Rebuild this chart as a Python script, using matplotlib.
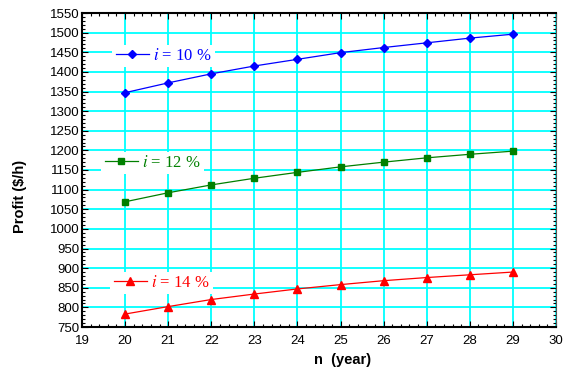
import matplotlib
matplotlib.use("Agg")
import matplotlib.pyplot as plt
from matplotlib.ticker import MultipleLocator

# Data
years = [20, 21, 22, 23, 24, 25, 26, 27, 28, 29]
profit_10 = [1347, 1372, 1395, 1415, 1432, 1449, 1462, 1474, 1486, 1496]
profit_12 = [1069, 1092, 1112, 1129, 1144, 1158, 1170, 1181, 1190, 1198]
profit_14 = [783, 802, 820, 834, 847, 858, 868, 876, 883, 890]
labels = [r"$i$ = 10 %", r"$i$ = 12 %", r"$i$ = 14 %"]
x_ticks = list(range(19, 31))
y_ticks = list(range(750, 1551, 50))

plt.rcParams["font.family"] = ["Liberation Sans", "DejaVu Sans"]
plt.rcParams["mathtext.fontset"] = "stix"

fig = plt.figure(figsize=(5.63, 3.68), dpi=100)
ax = fig.add_axes([82 / 563, 1 - 327 / 368, 474 / 563, 314 / 368])

l1, = ax.plot(years, profit_10, color="#0000ff", lw=0.9, marker="D", ms=4.3, zorder=3)
l2, = ax.plot(years, profit_12, color="#008000", lw=0.9, marker="s", ms=4.3, zorder=3)
l3, = ax.plot(years, profit_14, color="#ff0000", lw=0.9, marker="^", ms=6, zorder=3)

ax.set_xlim(19, 30)
ax.set_ylim(750, 1550)
ax.set_xticks(x_ticks)
ax.set_yticks(y_ticks)
ax.xaxis.set_minor_locator(MultipleLocator(0.2))
ax.yaxis.set_minor_locator(MultipleLocator(10))
ax.grid(True, which="major", color="#00ffff", lw=1.3, zorder=0)
ax.set_axisbelow(True)
ax.tick_params(which="both", direction="in", top=True, right=True, labelsize=9.5)
ax.tick_params(which="major", length=4, width=0.8)
ax.tick_params(which="minor", length=2.5, width=0.8)
ax.tick_params(axis="x", pad=6)
ax.tick_params(axis="y", pad=2)
for s in ["left", "bottom", "top"]:
    ax.spines[s].set_linewidth(1.5)
ax.spines["right"].set_linewidth(0.8)
ax.spines["right"].set_color("#555555")

ax.set_xlabel("n  (year)", fontsize=10.5, fontweight="bold")
ax.xaxis.set_label_coords(0.549, -0.105)
ax.xaxis.label.set_va("center")
ax.set_ylabel("Profit ($/h)", fontsize=10.5, fontweight="bold")
ax.yaxis.set_label_coords(-0.131, 0.417)
ax.yaxis.label.set_va("center")

pos = [(0.064, 0.863), (0.041, 0.522), (0.060, 0.140)]
for line, lab, p in zip([l1, l2, l3], labels, pos):
    leg = ax.legend([line], [lab], loc="center left", bbox_to_anchor=p,
                    frameon=True, facecolor="white", edgecolor="none", framealpha=1,
                    fancybox=False, borderpad=0.2, borderaxespad=0, handlelength=2.0,
                    handletextpad=0.25, prop={"family": "Liberation Serif", "size": 12})
    leg.get_texts()[0].set_color(line.get_color())
    leg.set_zorder(4)
    ax.add_artist(leg)

fig.savefig("out.png", dpi=100)
